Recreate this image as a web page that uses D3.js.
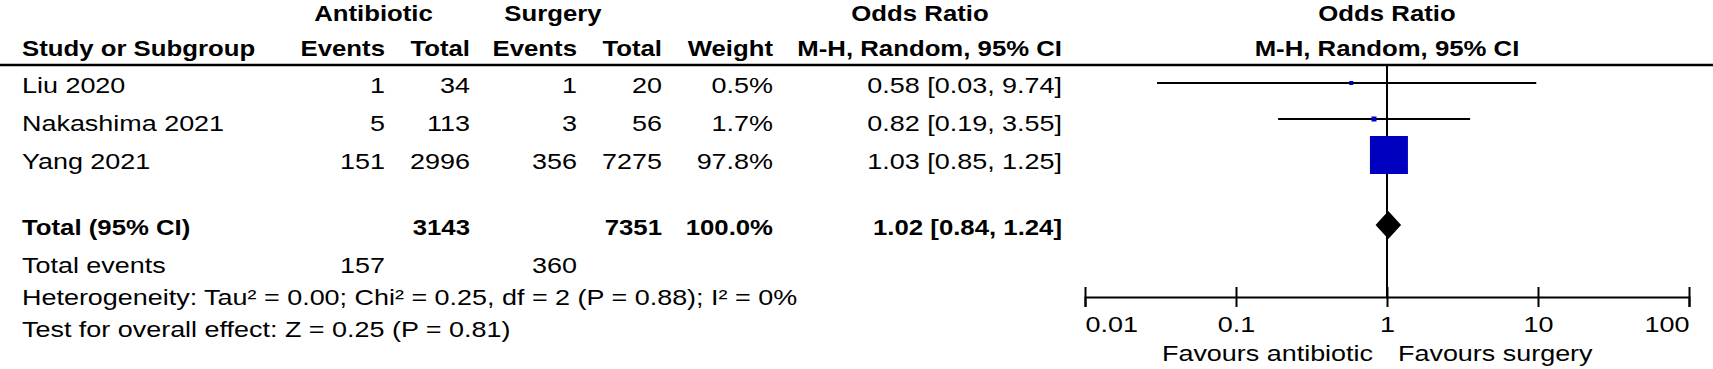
<!DOCTYPE html>
<html>
<head>
<meta charset="utf-8">
<script src="https://cdn.jsdelivr.net/npm/d3@7"></script>
<style>
  html, body { margin: 0; padding: 0; background: #fff; }
  svg { display: block; }
</style>
</head>
<body>
<svg id="chart" width="1713" height="369"></svg>
<script>
// ---------------- data ----------------
const studies     = ["Liu 2020", "Nakashima 2021", "Yang 2021"];
const abxEvents   = [1, 5, 151];
const abxTotal    = [34, 113, 2996];
const surEvents   = [1, 3, 356];
const surTotal    = [20, 56, 7275];
const weights     = [0.5, 1.7, 97.8];
const oddsRatio   = [0.58, 0.82, 1.03];
const ciLow       = [0.03, 0.19, 0.85];
const ciHigh      = [9.74, 3.55, 1.25];

const pooled      = [1.02, 0.84, 1.24];       // OR, low, high
const pooledTotals = [3143, 7351];            // antibiotic total, surgery total
const pooledWeight = 100.0;
const totalEvents = [157, 360];               // antibiotic, surgery

const tickValues  = [0.01, 0.1, 1, 10, 100];
const tickLabels  = ["0.01", "0.1", "1", "10", "100"];
const favourLabels = ["Favours antibiotic", "Favours surgery"];

const heterogeneityText = "Heterogeneity: Tau\u00B2 = 0.00; Chi\u00B2 = 0.25, df = 2 (P = 0.88); I\u00B2 = 0%";
const overallText = "Test for overall effect: Z = 0.25 (P = 0.81)";

// ---------------- layout ----------------
const svg = d3.select("#chart");
const FONT = "'Liberation Sans', Arial, sans-serif";
const NF = 22, NSX = 1.225;   // normal font size & horizontal stretch
const BF = 23, BSX = 1.12;    // bold font size & horizontal stretch

function txt(x, y, s, anchor, bold) {
  return svg.append("text")
    .attr("transform", `translate(${x},${y}) scale(${bold ? BSX : NSX},1)`)
    .attr("text-anchor", anchor || "start")
    .attr("font-family", FONT)
    .attr("font-size", bold ? BF : NF)
    .attr("font-weight", bold ? "bold" : "normal")
    .attr("fill", "#000")
    .text(s);
}

// column right edges
const col = { study: 22, abxE: 385, abxT: 470, surE: 577, surT: 662, w: 773, or: 1062 };

// row positions
const rowText = d3.scaleLinear().domain([0, 1]).range([93, 131]);   // baselines of study rows
const rowPlot = d3.scaleLinear().domain([0, 1]).range([83, 119]);   // centres of plot rows
const totalBaseline = 235, totalPlotY = 225;

const x = d3.scaleLog().domain([0.01, 100]).range([1085, 1689]);
const axisY = 297;
const ruleY = 65;

const fmt2 = d3.format(".2f");
const fmtW = d => d3.format(".1f")(d) + "%";
const orText = (o, l, h) => `${fmt2(o)} [${fmt2(l)}, ${fmt2(h)}]`;

// ---------------- headers ----------------
txt((315 + 432) / 2, 21, "Antibiotic", "middle", true);
txt(553, 21, "Surgery", "middle", true);
txt(920, 21, "Odds Ratio", "middle", true);
txt(x(1), 21, "Odds Ratio", "middle", true);

txt(col.study, 56, "Study or Subgroup", "start", true);
txt(col.abxE, 56, "Events", "end", true);
txt(col.abxT, 56, "Total", "end", true);
txt(col.surE, 56, "Events", "end", true);
txt(col.surT, 56, "Total", "end", true);
txt(col.w, 56, "Weight", "end", true);
txt(col.or, 56, "M-H, Random, 95% CI", "end", true);
txt(x(1), 56, "M-H, Random, 95% CI", "middle", true);

svg.append("line")
  .attr("x1", 0).attr("x2", 1713).attr("y1", ruleY).attr("y2", ruleY)
  .attr("stroke", "#000").attr("stroke-width", 2.5);

// ---------------- study rows ----------------
studies.forEach((s, i) => {
  const y = rowText(i);
  txt(col.study, y, s, "start", false);
  txt(col.abxE, y, abxEvents[i], "end", false);
  txt(col.abxT, y, abxTotal[i], "end", false);
  txt(col.surE, y, surEvents[i], "end", false);
  txt(col.surT, y, surTotal[i], "end", false);
  txt(col.w, y, fmtW(weights[i]), "end", false);
  txt(col.or, y, orText(oddsRatio[i], ciLow[i], ciHigh[i]), "end", false);
});

// total row
txt(col.study, totalBaseline, "Total (95% CI)", "start", true);
txt(col.abxT, totalBaseline, pooledTotals[0], "end", true);
txt(col.surT, totalBaseline, pooledTotals[1], "end", true);
txt(col.w, totalBaseline, fmtW(pooledWeight), "end", true);
txt(col.or, totalBaseline, orText(pooled[0], pooled[1], pooled[2]), "end", true);

txt(col.study, 273, "Total events", "start", false);
txt(col.abxE, 273, totalEvents[0], "end", false);
txt(col.surE, 273, totalEvents[1], "end", false);
txt(col.study, 305, heterogeneityText, "start", false);
txt(col.study, 337, overallText, "start", false);

// ---------------- forest plot ----------------
const plot = svg.append("g");

// line of no effect
plot.append("line")
  .attr("x1", x(1)).attr("x2", x(1))
  .attr("y1", ruleY).attr("y2", axisY)
  .attr("stroke", "#000").attr("stroke-width", 2);

// confidence intervals
plot.selectAll("line.ci").data(studies).join("line")
  .attr("class", "ci")
  .attr("x1", (d, i) => x(ciLow[i])).attr("x2", (d, i) => x(ciHigh[i]))
  .attr("y1", (d, i) => rowPlot(i)).attr("y2", (d, i) => rowPlot(i))
  .attr("stroke", "#000").attr("stroke-width", 2);

// squares
const size = d3.scaleSqrt().domain([0, 97.8]).range([0, 38]);
plot.selectAll("rect.pt").data(studies).join("rect")
  .attr("class", "pt")
  .attr("x", (d, i) => x(oddsRatio[i]) - Math.max(4, size(weights[i])) / 2)
  .attr("y", (d, i) => rowPlot(i) - Math.max(4, size(weights[i])) / 2)
  .attr("width", (d, i) => Math.max(4, size(weights[i])))
  .attr("height", (d, i) => Math.max(4, size(weights[i])))
  .attr("fill", "#0000c0");

// pooled diamond
const dh = 14;
plot.append("path")
  .attr("d", `M${x(pooled[1])},${totalPlotY} L${x(pooled[0])},${totalPlotY - dh} L${x(pooled[2])},${totalPlotY} L${x(pooled[0])},${totalPlotY + dh} Z`)
  .attr("fill", "#000");

// axis
const axis = d3.axisBottom(x).tickValues(tickValues).tickSizeOuter(0).tickSize(10)
  .tickFormat((d, i) => tickLabels[i]);
const ag = plot.append("g").attr("transform", `translate(0,${axisY})`).call(axis);
ag.select(".domain").attr("stroke", "#000").attr("stroke-width", 2);
ag.selectAll(".tick line").attr("y1", -10).attr("y2", 10).attr("stroke", "#000").attr("stroke-width", 2);
ag.selectAll(".tick text")
  .attr("y", null).attr("dy", null)
  .attr("transform", `translate(0,35) scale(${NSX},1)`)
  .attr("font-family", FONT).attr("font-size", NF).attr("fill", "#000")
  .attr("text-anchor", (d, i) => i === 0 ? "start" : (i === tickValues.length - 1 ? "end" : "middle"));
ag.attr("font-family", FONT);

txt(x(1) - 14, 361, favourLabels[0], "end", false);
txt(x(1) + 11, 361, favourLabels[1], "start", false);
</script>
</body>
</html>
